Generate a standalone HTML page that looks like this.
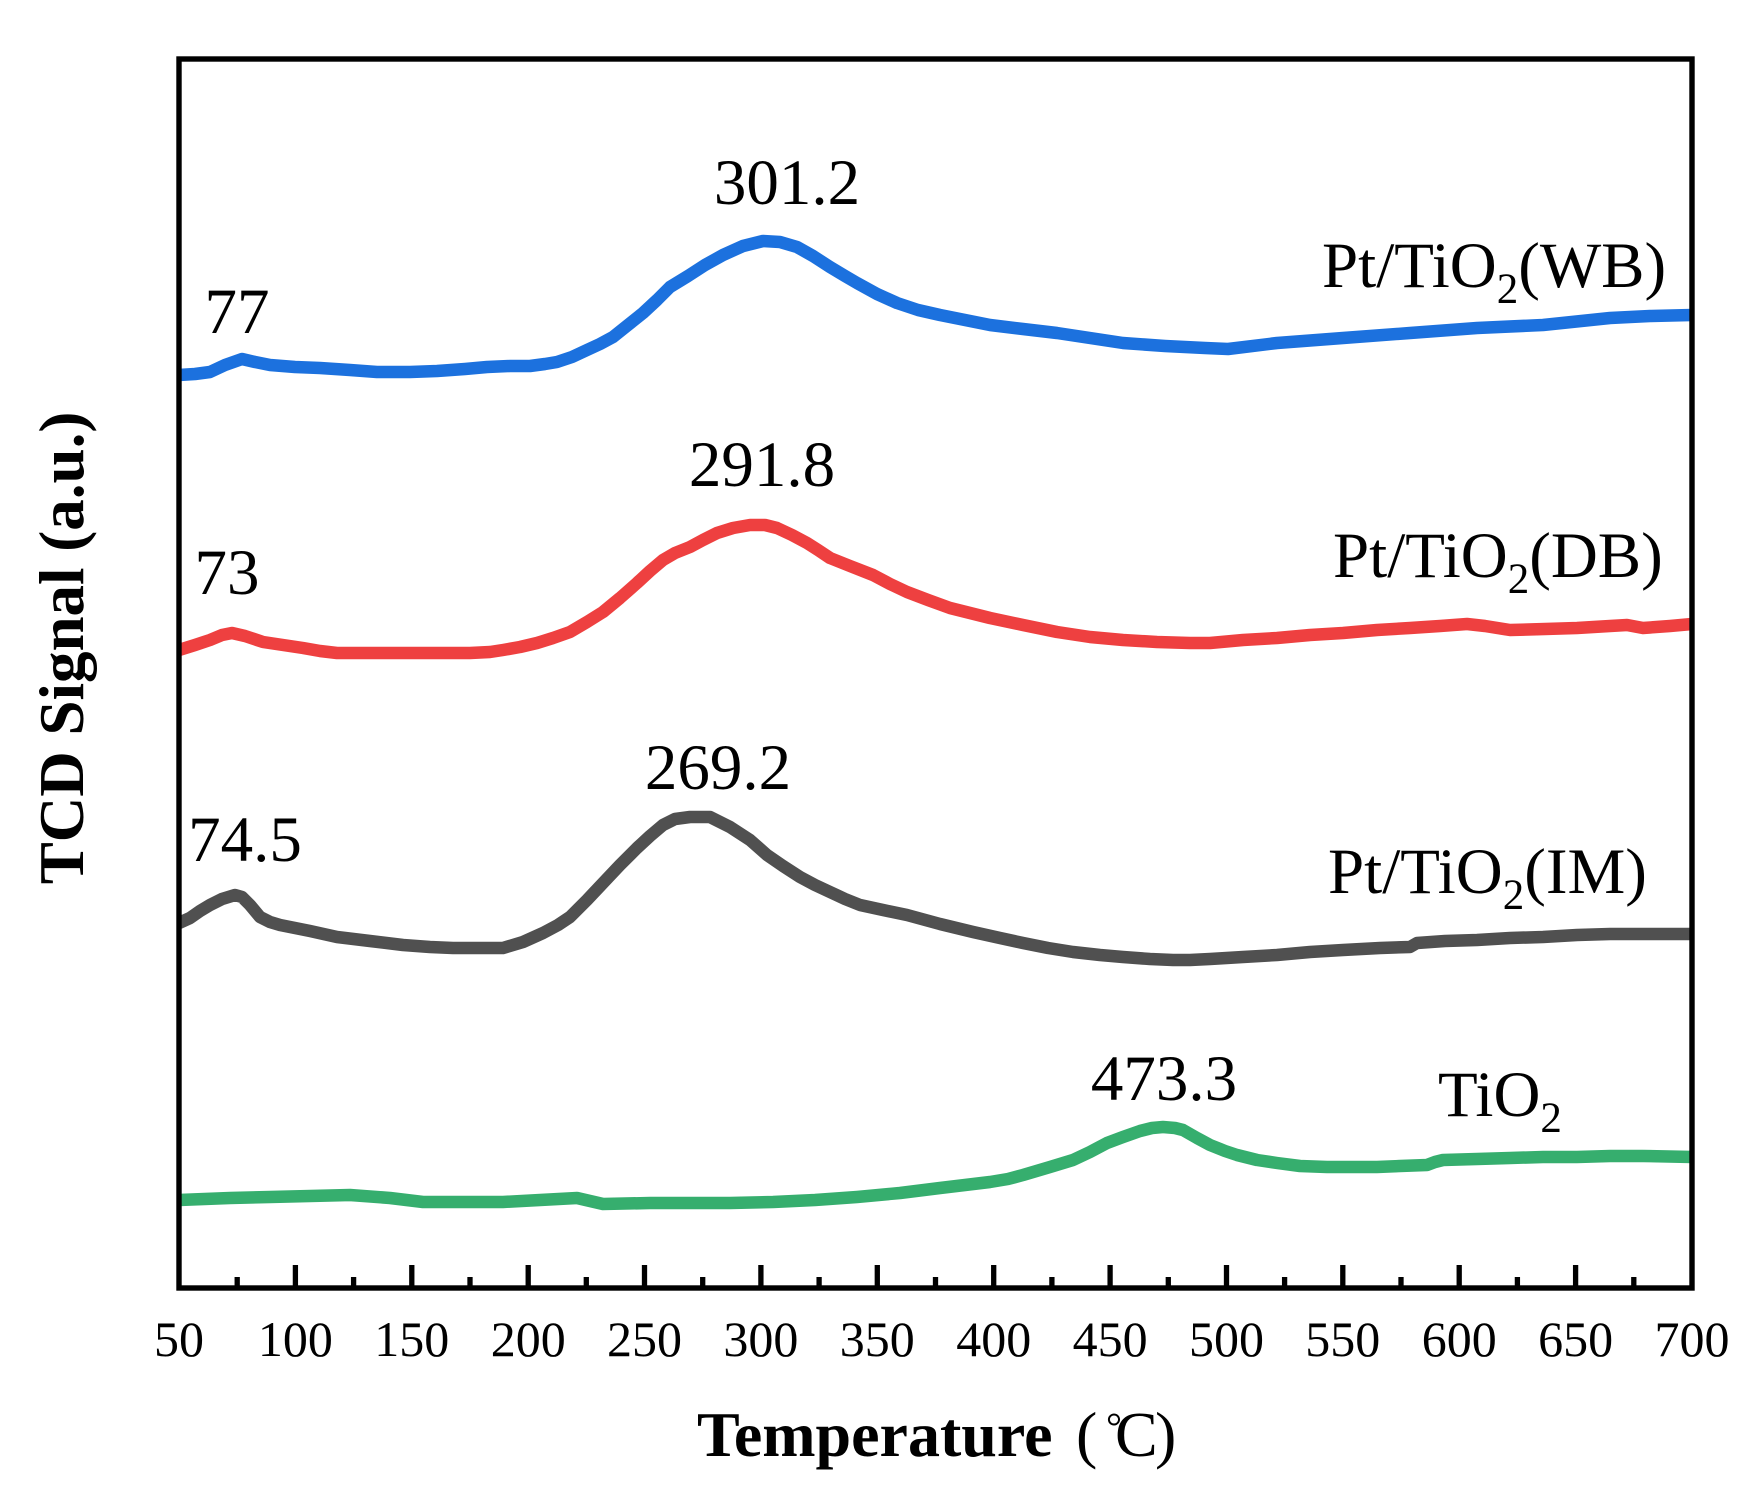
<!DOCTYPE html>
<html>
<head>
<meta charset="utf-8">
<style>
html,body{margin:0;padding:0;background:#fff;}
svg{display:block;}
text{font-family:"Liberation Serif","Noto Serif CJK SC",serif;fill:#000;}
</style>
</head>
<body>
<svg width="1749" height="1490" viewBox="0 0 1749 1490" xmlns="http://www.w3.org/2000/svg">
<rect x="0" y="0" width="1749" height="1490" fill="#fff"/>

<g fill="none" stroke-width="12.5" stroke-linejoin="round" stroke-linecap="butt">
<!-- Blue WB -->
<polyline stroke="#1C71DE" points="179,375 195,374 210,372 225,365 242,359 255,362 270,365 295,367 320,368 350,370 377,372 410,372 437,371 465,369 487,367 510,366 530,366 545,364 557,362 572,357 587,350 600,344 613,337 628,325 643,313 657,300 670,287 688,276 705,265 723,255 743,246 763,241 780,242 797,247 813,256 830,267 845,276 857,283 877,294 897,303 918,310 940,315 965,320 990,325 1023,329 1057,333 1090,338 1123,343 1165,346 1205,348 1228,349 1277,343 1343,338 1410,333 1477,328 1543,325 1610,318 1650,316 1692,315"/>
<!-- Red DB -->
<polyline stroke="#EE4040" points="179,650 195,645 210,640 222,635 232,633 245,636 263,642 283,645 303,648 320,651 337,653 370,653 403,653 437,653 470,653 490,652 503,650 520,647 537,643 553,638 570,632 587,622 603,612 620,598 637,583 650,571 663,560 675,553 690,547 703,540 717,533 733,528 750,525 765,525 777,528 792,535 807,543 818,550 830,558 850,566 873,575 890,584 907,592 928,600 950,608 970,613 990,618 1023,625 1057,632 1090,637 1123,640 1157,642 1190,643 1210,643 1243,640 1277,638 1310,635 1343,633 1377,630 1410,628 1440,626 1467,624 1485,626 1510,630 1545,629 1577,628 1610,626 1627,625 1643,628 1670,626 1692,624"/>
<!-- Dark gray IM -->
<polyline stroke="#505050" points="179,923 190,918 200,911 210,905 222,899 235,895 242,897 250,905 260,917 270,922 280,925 310,931 337,937 370,941 403,945 430,947 453,948 480,948 503,948 523,942 543,933 558,925 570,917 587,900 603,883 620,865 637,848 650,836 663,825 675,819 690,817 710,817 730,827 750,840 767,855 783,866 800,877 815,885 830,892 845,899 860,905 883,910 907,915 940,924 973,932 1000,938 1023,943 1048,948 1073,952 1100,955 1123,957 1150,959 1173,960 1190,960 1210,959 1243,957 1277,955 1310,952 1343,950 1380,948 1410,947 1417,943 1445,941 1477,940 1510,938 1543,937 1577,935 1610,934 1650,934 1692,934"/>
<!-- Green TiO2 -->
<polyline stroke="#36AE6E" points="179,1200 230,1198 270,1197 310,1196 350,1195 390,1198 423,1202 460,1202 503,1202 540,1200 577,1198 590,1201 603,1204 650,1203 690,1203 730,1203 773,1202 815,1200 857,1197 900,1193 940,1188 965,1185 990,1182 1008,1179 1023,1175 1050,1167 1073,1160 1090,1152 1107,1143 1123,1137 1140,1131 1152,1128 1163,1127 1175,1128 1183,1130 1190,1134 1197,1138 1210,1145 1225,1151 1237,1155 1257,1160 1277,1163 1300,1166 1327,1167 1350,1167 1377,1167 1400,1166 1427,1165 1435,1162 1443,1160 1477,1159 1510,1158 1543,1157 1577,1157 1610,1156 1643,1156 1692,1157"/>
</g>

<!-- Axes frame -->
<rect x="179" y="59" width="1513" height="1229" fill="none" stroke="#000" stroke-width="5.4"/>

<!-- Ticks -->
<g stroke="#000" stroke-width="5.3">
<line x1="295.4" y1="1288" x2="295.4" y2="1265"/>
<line x1="411.8" y1="1288" x2="411.8" y2="1265"/>
<line x1="528.2" y1="1288" x2="528.2" y2="1265"/>
<line x1="644.5" y1="1288" x2="644.5" y2="1265"/>
<line x1="760.9" y1="1288" x2="760.9" y2="1265"/>
<line x1="877.3" y1="1288" x2="877.3" y2="1265"/>
<line x1="993.7" y1="1288" x2="993.7" y2="1265"/>
<line x1="1110.1" y1="1288" x2="1110.1" y2="1265"/>
<line x1="1226.5" y1="1288" x2="1226.5" y2="1265"/>
<line x1="1342.8" y1="1288" x2="1342.8" y2="1265"/>
<line x1="1459.2" y1="1288" x2="1459.2" y2="1265"/>
<line x1="1575.6" y1="1288" x2="1575.6" y2="1265"/>
<line x1="237.2" y1="1288" x2="237.2" y2="1277"/>
<line x1="353.6" y1="1288" x2="353.6" y2="1277"/>
<line x1="470.0" y1="1288" x2="470.0" y2="1277"/>
<line x1="586.3" y1="1288" x2="586.3" y2="1277"/>
<line x1="702.7" y1="1288" x2="702.7" y2="1277"/>
<line x1="819.1" y1="1288" x2="819.1" y2="1277"/>
<line x1="935.5" y1="1288" x2="935.5" y2="1277"/>
<line x1="1051.9" y1="1288" x2="1051.9" y2="1277"/>
<line x1="1168.3" y1="1288" x2="1168.3" y2="1277"/>
<line x1="1284.6" y1="1288" x2="1284.6" y2="1277"/>
<line x1="1401.0" y1="1288" x2="1401.0" y2="1277"/>
<line x1="1517.4" y1="1288" x2="1517.4" y2="1277"/>
<line x1="1633.8" y1="1288" x2="1633.8" y2="1277"/>
</g>

<!-- Tick labels -->
<g font-size="50" text-anchor="middle">
<text x="179" y="1356">50</text>
<text x="295.4" y="1356">100</text>
<text x="411.8" y="1356">150</text>
<text x="528.2" y="1356">200</text>
<text x="644.5" y="1356">250</text>
<text x="760.9" y="1356">300</text>
<text x="877.3" y="1356">350</text>
<text x="993.7" y="1356">400</text>
<text x="1110.1" y="1356">450</text>
<text x="1226.5" y="1356">500</text>
<text x="1342.8" y="1356">550</text>
<text x="1459.2" y="1356">600</text>
<text x="1575.6" y="1356">650</text>
<text x="1692" y="1356">700</text>
</g>

<!-- Peak annotations -->
<g font-size="65" text-anchor="middle">
<text x="787" y="204">301.2</text>
<text x="237" y="333">77</text>
<text x="762" y="486">291.8</text>
<text x="227" y="594">73</text>
<text x="718" y="789">269.2</text>
<text x="245" y="861">74.5</text>
<text x="1164" y="1100">473.3</text>
</g>

<!-- Series labels -->
<g font-size="65">
<text x="1322" y="287">Pt/TiO<tspan font-size="43" dy="16">2</tspan><tspan dy="-16">(WB)</tspan></text>
<text x="1333" y="577">Pt/TiO<tspan font-size="43" dy="16">2</tspan><tspan dy="-16">(DB)</tspan></text>
<text x="1328" y="893">Pt/TiO<tspan font-size="43" dy="16">2</tspan><tspan dy="-16">(IM)</tspan></text>
<text x="1438" y="1116">TiO<tspan font-size="43" dy="16">2</tspan></text>
</g>

<!-- Axis titles -->
<text x="697" y="1456" font-size="64" font-weight="bold">Temperature</text>
<text x="1076" y="1456" font-size="64">(</text>
<text x="1106" y="1440" font-size="40">°</text>
<text x="1115" y="1456" font-size="64">C</text>
<text x="1155" y="1456" font-size="64">)</text>

<text transform="translate(83,648) rotate(-90)" text-anchor="middle" font-size="63" font-weight="bold">TCD Signal (a.u.)</text>
</svg>
</body>
</html>
